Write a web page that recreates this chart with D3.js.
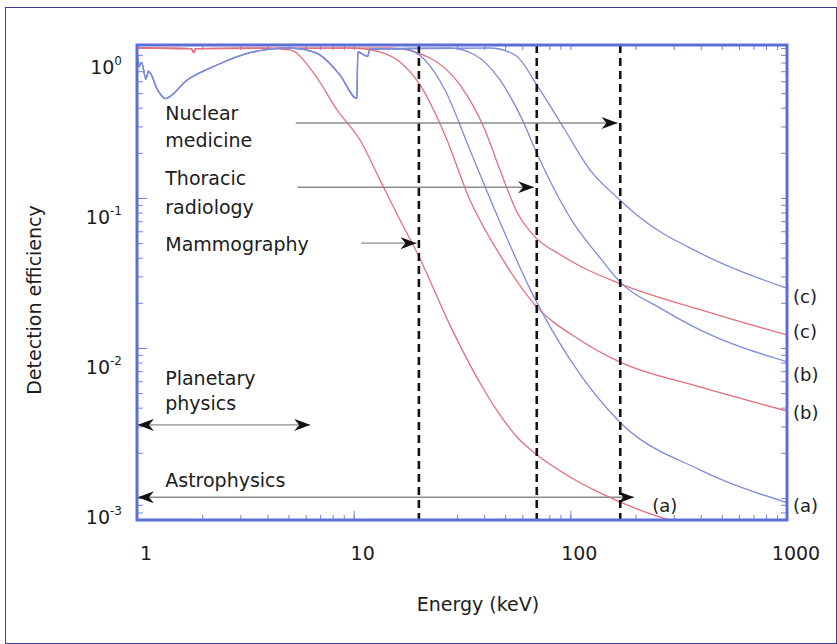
<!DOCTYPE html>
<meta charset="utf-8">
<script src="https://cdn.jsdelivr.net/npm/d3@7"></script>
<style>
body { margin: 0; background: #fff; }
text { font-family: "DejaVu Sans", sans-serif; fill: #1c1c1c; }
.curve { fill: none; stroke-width: 1.3px; }
.tick line { stroke: #7384dc; stroke-width: 1px; }
</style>
<body>
<script>

// energy (keV), detection efficiency
var siCommon = [[1, 1.0], [1.78, 0.99], [1.83, 0.93], [1.86, 0.99]];
var redA = [[3.7, 1.0], [5.08, 0.97], [6.63, 0.661], [8.38, 0.386], [10.7, 0.2435], [13.22, 0.132],
            [16.36, 0.0713], [19.8, 0.042], [27.82, 0.0142], [38.3, 0.00584], [47.33, 0.00358],
            [56.7, 0.00255], [70.1, 0.00194], [99.6, 0.00138], [137, 0.00108], [209.5, 0.00083],
            [320.5, 0.00068], [1000, 0.00048]];
var redB = [[9.61, 1.0], [13.22, 0.94], [16.36, 0.807], [20.23, 0.567], [26.38, 0.263], [34.41, 0.097],
            [47.33, 0.0417], [68.65, 0.0194], [110.7, 0.0113], [167.6, 0.0081], [396.4, 0.0055], [1000, 0.0038]];
var redC = [[14.7, 1.0], [22.5, 0.858], [30.94, 0.567], [40.36, 0.284], [47.33, 0.154], [56.7, 0.0807],
            [68.65, 0.055], [89.54, 0.042], [110.7, 0.0352], [167.6, 0.027], [396.4, 0.018], [1000, 0.0122]];

var gaasCommon = [[1, 0.97], [1.02, 0.75], [1.05, 0.8], [1.1, 0.62], [1.13, 0.7], [1.25, 0.52], [1.35, 0.46],
                  [1.7, 0.61], [2.34, 0.77], [3.32, 0.93], [4.9, 1.0], [5.65, 0.985], [6.98, 0.9],
                  [8.65, 0.66], [10.35, 0.46], [10.45, 0.94], [11.6, 0.88], [11.9, 0.985]];
var blueA = [[17.25, 0.985], [21.33, 0.832], [26.38, 0.525], [34.41, 0.209], [45.85, 0.077], [67.21, 0.0226],
             [99.59, 0.0084], [169.4, 0.0032], [396.4, 0.00154], [1000, 0.00093]];
var blueB = [[27.82, 1.0], [36.29, 0.898], [47.33, 0.612], [58.55, 0.358], [72.39, 0.179], [89.54, 0.097],
             [102.8, 0.069], [137.0, 0.040], [167.6, 0.028], [259.1, 0.0185], [396.4, 0.0132], [1000, 0.0081]];
var blueC = [[42.56, 1.0], [55.51, 0.898], [72.39, 0.525], [94.42, 0.284], [123.2, 0.154], [169.4, 0.097],
             [209.5, 0.074], [396.4, 0.043], [1000, 0.025]];

// application energies (dashed lines)
var dashedEnergies = [20, 70, 170];

// arrows: label lines, level, from, to, two heads?
var arrowNames = [["Nuclear", "medicine"], ["Thoracic", "radiology"], ["Mammography"], ["Planetary", "physics"], ["Astrophysics"]];
var arrowLevel = [0.316, 0.118, 0.050, 0.00307, 0.00101];
var arrowFrom = [5.4, 5.5, 10.8, 1.01, 1.01];
var arrowTo = [165, 68, 19.5, 6.3, 197];
var arrowDouble = [false, false, false, true, true];
var arrowTextLevel = [[0.369, 0.243], [0.136, 0.087], [0.0494], [0.0063, 0.0043], [0.00132]];

// curve end labels
var endLabels = ["(c)", "(c)", "(b)", "(b)", "(a)", "(a)"];
var endLabelE = [1000, 1000, 1000, 1000, 1000, 273];
var endLabelEff = [0.0219, 0.0128, 0.0067, 0.00374, 0.000884, 0.00089];

var xTickVals = [1, 10, 100, 1000];
var yTickVals = [1, 0.1, 0.01, 0.001];
var yTickExp = ["0", "-1", "-2", "-3"];

var width = 837, height = 644;

var x = d3.scaleLog().domain([1, 1000]).range([137, 787]);
var y = d3.scaleLog().domain([0.000713, 1.047]).range([520, 45]);

var svg = d3.select("body").append("svg")
    .attr("width", width)
    .attr("height", height);

// outer frame
svg.append("rect")
    .attr("x", 5.5).attr("y", 7.5)
    .attr("width", 831).attr("height", 636)
    .style("fill", "none")
    .style("stroke", "#3b3b9c")
    .style("stroke-width", 1);

var defs = svg.append("defs");
defs.append("clipPath").attr("id", "plot")
  .append("rect")
    .attr("x", x.range()[0]).attr("y", y.range()[1])
    .attr("width", x.range()[1] - x.range()[0])
    .attr("height", y.range()[0] - y.range()[1]);

defs.append("marker")
    .attr("id", "head")
    .attr("viewBox", "0 -6 16 12")
    .attr("refX", 16).attr("refY", 0)
    .attr("markerWidth", 16).attr("markerHeight", 12)
    .attr("markerUnits", "userSpaceOnUse")
    .attr("orient", "auto-start-reverse")
  .append("path")
    .attr("d", "M0,-6L16,0L0,6L5,0Z")
    .style("fill", "#111");

// minor + major ticks, pointing inwards
function ticks(axis, tx, ty) {
  var g = svg.append("g").attr("transform", "translate(" + tx + "," + ty + ")").call(axis);
  g.select(".domain").remove();
  g.selectAll("text").remove();
}
ticks(d3.axisBottom(x).tickSizeInner(-5).tickSizeOuter(0).tickFormat(""), 0, 520);
ticks(d3.axisTop(x).tickSizeInner(-5).tickSizeOuter(0).tickFormat(""), 0, 45);
ticks(d3.axisLeft(y).tickSizeInner(-6).tickSizeOuter(0).tickFormat(""), 137, 0);
ticks(d3.axisRight(y).tickSizeInner(-6).tickSizeOuter(0).tickFormat(""), 787, 0);
ticks(d3.axisLeft(y).tickValues(yTickVals).tickSizeInner(-10).tickSizeOuter(0).tickFormat(""), 137, 0);
ticks(d3.axisBottom(x).tickValues(xTickVals).tickSizeInner(-9).tickSizeOuter(0).tickFormat(""), 0, 520);

var line = d3.line()
    .x(function(d) { return x(d[0]); })
    .y(function(d) { return y(d[1]); })
    .curve(d3.curveMonotoneX);

var series = [
  {pts: siCommon.concat(redA), color: "#e2707c"},
  {pts: siCommon.concat(redB), color: "#e2707c"},
  {pts: siCommon.concat(redC), color: "#e2707c"},
  {pts: gaasCommon.concat(blueA), color: "#7d8cda"},
  {pts: gaasCommon.concat(blueB), color: "#7d8cda"},
  {pts: gaasCommon.concat(blueC), color: "#7d8cda"}
];

svg.append("g")
    .attr("clip-path", "url(#plot)")
    .selectAll("path")
    .data(series)
    .enter().append("path")
    .attr("class", "curve")
    .attr("d", function(d) { return line(d.pts); })
    .style("stroke", function(d) { return d.color; });

// dashed energy lines
svg.append("g").selectAll("line")
    .data(dashedEnergies)
    .enter().append("line")
    .attr("x1", function(d) { return x(d); })
    .attr("x2", function(d) { return x(d); })
    .attr("y1", y.range()[1])
    .attr("y2", y.range()[0])
    .style("stroke", "#111")
    .style("stroke-width", 2.6)
    .style("stroke-dasharray", "8,5");

// plot frame
svg.append("rect")
    .attr("x", x.range()[0]).attr("y", y.range()[1])
    .attr("width", x.range()[1] - x.range()[0])
    .attr("height", y.range()[0] - y.range()[1])
    .style("fill", "none")
    .style("stroke", "#5d6ed6")
    .style("stroke-width", 3);

// arrows
arrowNames.forEach(function(name, i) {
  svg.append("line")
      .attr("x1", x(arrowFrom[i]))
      .attr("x2", x(arrowTo[i]))
      .attr("y1", y(arrowLevel[i]))
      .attr("y2", y(arrowLevel[i]))
      .style("stroke", "#8c8c8c")
      .style("stroke-width", 1.4)
      .attr("marker-end", "url(#head)")
      .attr("marker-start", arrowDouble[i] ? "url(#head)" : null);

  name.forEach(function(txt, j) {
    svg.append("text")
        .attr("x", x(1.35))
        .attr("y", y(arrowTextLevel[i][j]))
        .attr("dy", "0.36em")
        .style("font-size", "19px")
        .text(txt);
  });
});

// curve labels
endLabels.forEach(function(t, i) {
  svg.append("text")
      .attr("x", endLabelE[i] == 1000 ? x(1000) + 6 : x(endLabelE[i]))
      .attr("y", y(endLabelEff[i]))
      .attr("dy", "0.36em")
      .attr("text-anchor", endLabelE[i] == 1000 ? "start" : "middle")
      .style("font-size", "18px")
      .text(t);
});

// tick labels
svg.append("g").selectAll("text")
    .data(xTickVals)
    .enter().append("text")
    .attr("x", function(d) { return x(d) + 9; })
    .attr("y", 560)
    .attr("text-anchor", "middle")
    .style("font-size", "19px")
    .text(function(d) { return d; });

var yl = svg.append("g").selectAll("text")
    .data(yTickVals)
    .enter().append("text")
    .attr("x", 122)
    .attr("y", function(d) { return y(d) + 26; })
    .attr("text-anchor", "end")
    .style("font-size", "19px");
yl.append("tspan").text("10");
yl.append("tspan")
    .attr("dy", -9)
    .style("font-size", "12px")
    .text(function(d, i) { return yTickExp[i]; });

// axis titles
svg.append("text")
    .attr("x", 478).attr("y", 611)
    .attr("text-anchor", "middle")
    .style("font-size", "19px")
    .text("Energy (keV)");

svg.append("text")
    .attr("transform", "translate(41,300) rotate(-90)")
    .attr("text-anchor", "middle")
    .style("font-size", "19px")
    .text("Detection efficiency");

</script>
</body>
